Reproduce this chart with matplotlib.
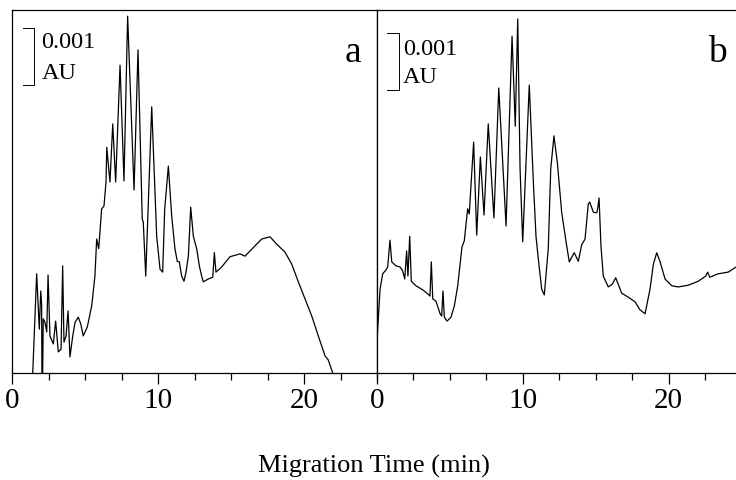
import matplotlib
matplotlib.use("Agg")
import matplotlib.pyplot as plt
from matplotlib.ticker import MultipleLocator

plt.rcParams['font.family'] = ['Liberation Serif', 'DejaVu Serif']

# panel a trace: migration time (min), absorbance (mAU above axis)
t_a = [1.42, 1.69, 1.87, 1.97, 2.03, 2.05, 2.10, 2.14, 2.26, 2.38, 2.47, 2.60,
       2.83, 2.99, 3.17, 3.36, 3.47, 3.56, 3.70, 3.84, 3.97, 4.16, 4.32, 4.54,
       4.71, 4.88, 5.16, 5.46, 5.68, 5.80, 5.94, 6.14, 6.30, 6.44, 6.49, 6.71,
       6.90, 7.10, 7.40, 7.67, 7.92, 8.36, 8.63, 8.92, 8.99, 9.16, 9.57, 9.91,
       10.14, 10.32, 10.46, 10.71, 10.94, 11.16, 11.32, 11.46, 11.62, 11.78,
       11.92, 12.08, 12.24, 12.42, 12.65, 12.83, 12.99, 13.10, 13.45, 13.75,
       13.86, 13.97, 14.36, 14.93, 15.62, 15.96, 16.64, 17.10, 17.67, 18.13,
       18.70, 19.16, 19.61, 20.07, 20.53, 20.98, 21.44, 21.66, 21.97]
y_a = [0.00, 1.74, 0.77, 1.44, 1.20, 0.00, 0.00, 0.95, 0.89, 0.72, 1.72, 0.65,
       0.51, 0.91, 0.37, 0.42, 1.88, 0.54, 0.65, 1.09, 0.28, 0.65, 0.89, 0.98,
       0.86, 0.65, 0.81, 1.18, 1.70, 2.35, 2.18, 2.88, 2.93, 3.35, 3.96, 3.35,
       4.37, 3.35, 5.40, 3.37, 6.26, 3.21, 5.67, 2.70, 2.65, 1.70, 4.67, 2.40,
       1.82, 1.77, 2.88, 3.63, 2.75, 2.18, 1.96, 1.95, 1.70, 1.61,
       1.77, 2.05, 2.91, 2.40, 2.18, 1.88, 1.70, 1.60, 1.65, 1.68,
       2.11, 1.77, 1.86, 2.04, 2.09, 2.05, 2.23, 2.35, 2.39, 2.26,
       2.12, 1.91, 1.60, 1.30, 1.00, 0.65, 0.30, 0.23, 0.00]

# panel b trace
t_b = [0.04, 0.23, 0.41, 0.64, 0.75, 0.91, 1.03, 1.32, 1.60, 1.78, 1.92, 2.05,
       2.14, 2.26, 2.37, 2.69, 3.15, 3.49, 3.65, 3.74, 3.84, 4.06, 4.34, 4.45,
       4.54, 4.63, 4.82, 5.09, 5.32, 5.55, 5.84, 6.00, 6.23, 6.34, 6.64, 6.85,
       7.10, 7.35, 7.64, 8.03, 8.36, 8.63, 8.86, 9.27, 9.49, 9.66, 9.82, 10.00,
       10.45, 10.73, 10.91, 11.07, 11.30, 11.48, 11.75, 11.92, 12.14, 12.37,
       12.67, 12.97, 13.19, 13.53, 13.81, 14.04, 14.27, 14.49, 14.59, 14.84,
       15.07, 15.14, 15.23, 15.36, 15.52, 15.86, 16.14, 16.37, 16.78, 17.23,
       17.69, 18.03, 18.38, 18.72, 18.95, 19.18, 19.40, 19.75, 20.21, 20.66,
       21.34, 22.03, 22.53, 22.67, 22.81, 23.38, 24.08, 24.62]
y_b = [0.65, 1.47, 1.74, 1.81, 1.86, 2.33, 1.95, 1.88, 1.86, 1.79, 1.65, 2.14,
       1.70, 2.40, 1.61, 1.53, 1.46, 1.39, 1.35, 1.95, 1.30, 1.26, 1.04, 1.00,
       1.44, 0.98, 0.91, 0.98, 1.18, 1.53, 2.21, 2.32, 2.88, 2.79, 4.05, 2.42,
       3.79, 2.77, 4.37, 2.72, 5.00, 3.70, 2.58, 5.91, 4.33, 6.21, 3.58, 2.30,
       5.05, 3.35, 2.40, 2.00, 1.47, 1.37, 2.18, 3.58, 4.16, 3.70,
       2.82, 2.30, 1.95, 2.11, 1.96, 2.25, 2.35, 2.96, 3.00, 2.82,
       2.81, 2.89, 3.07, 2.23, 1.70, 1.51, 1.56, 1.67, 1.40, 1.33,
       1.25, 1.11, 1.04, 1.47, 1.91, 2.11, 1.96, 1.65, 1.53, 1.51,
       1.54, 1.61, 1.70, 1.77, 1.68, 1.74, 1.77, 1.86]

tick_labels = ['0', '10', '20']
panel_names = ['a', 'b']
scale_lines = ['0.001', 'AU']

W, H = 736, 481
fig = plt.figure(figsize=(W / 100, H / 100), dpi=100)

ymax = 363 / 57.0
ax_a = fig.add_axes([12 / W, (H - 374) / H, 365 / W, 363 / H])
ax_b = fig.add_axes([376.7 / W, (H - 374) / H, 365 / W, 363 / H])

# bar x, cap x, bar bottom, text x, text y (line 1), text y (line 2)
bars = [(1.51, 0.75, 5.05, 2.02, 5.81, 5.28),
        (1.53, 0.71, 4.97, 1.80, 5.70, 5.20)]

for ax, t, y, name, bar in [(ax_a, t_a, y_a, panel_names[0], bars[0]),
                            (ax_b, t_b, y_b, panel_names[1], bars[1])]:
    ax.plot(t, y, color='black', lw=0.9)
    ax.set_xlim(0, 25)
    ax.set_ylim(0, ymax)
    ax.set_yticks([])
    ax.set_xticks([0, 10, 20])
    ax.set_xticklabels(tick_labels)
    ax.xaxis.set_minor_locator(MultipleLocator(2.5))
    ax.tick_params(axis='x', which='major', length=8, width=0.9, pad=2, labelsize=21)
    ax.tick_params(axis='x', which='minor', length=5, width=0.9)
    for s in ax.spines.values():
        s.set_linewidth(0.9)
    # 0.001 AU scale bar
    xb, xc, yb, xt, y1, y2 = bar
    ax.plot([xc, xb, xb, xc], [yb, yb, yb + 1.0, yb + 1.0], color='black', lw=0.7)
    ax.text(xt, y1, scale_lines[0], ha='left', va='center', fontsize=17.5)
    ax.text(xt, y2, scale_lines[1], ha='left', va='center', fontsize=17.5)
    ax.text(23.35, 5.47, name, ha='center', va='baseline', fontsize=27)

fig.text(373.5 / W, 1 - 466 / H, 'Migration Time (min)', ha='center', va='center',
         fontsize=19)

fig.savefig('out.png', dpi=100)
